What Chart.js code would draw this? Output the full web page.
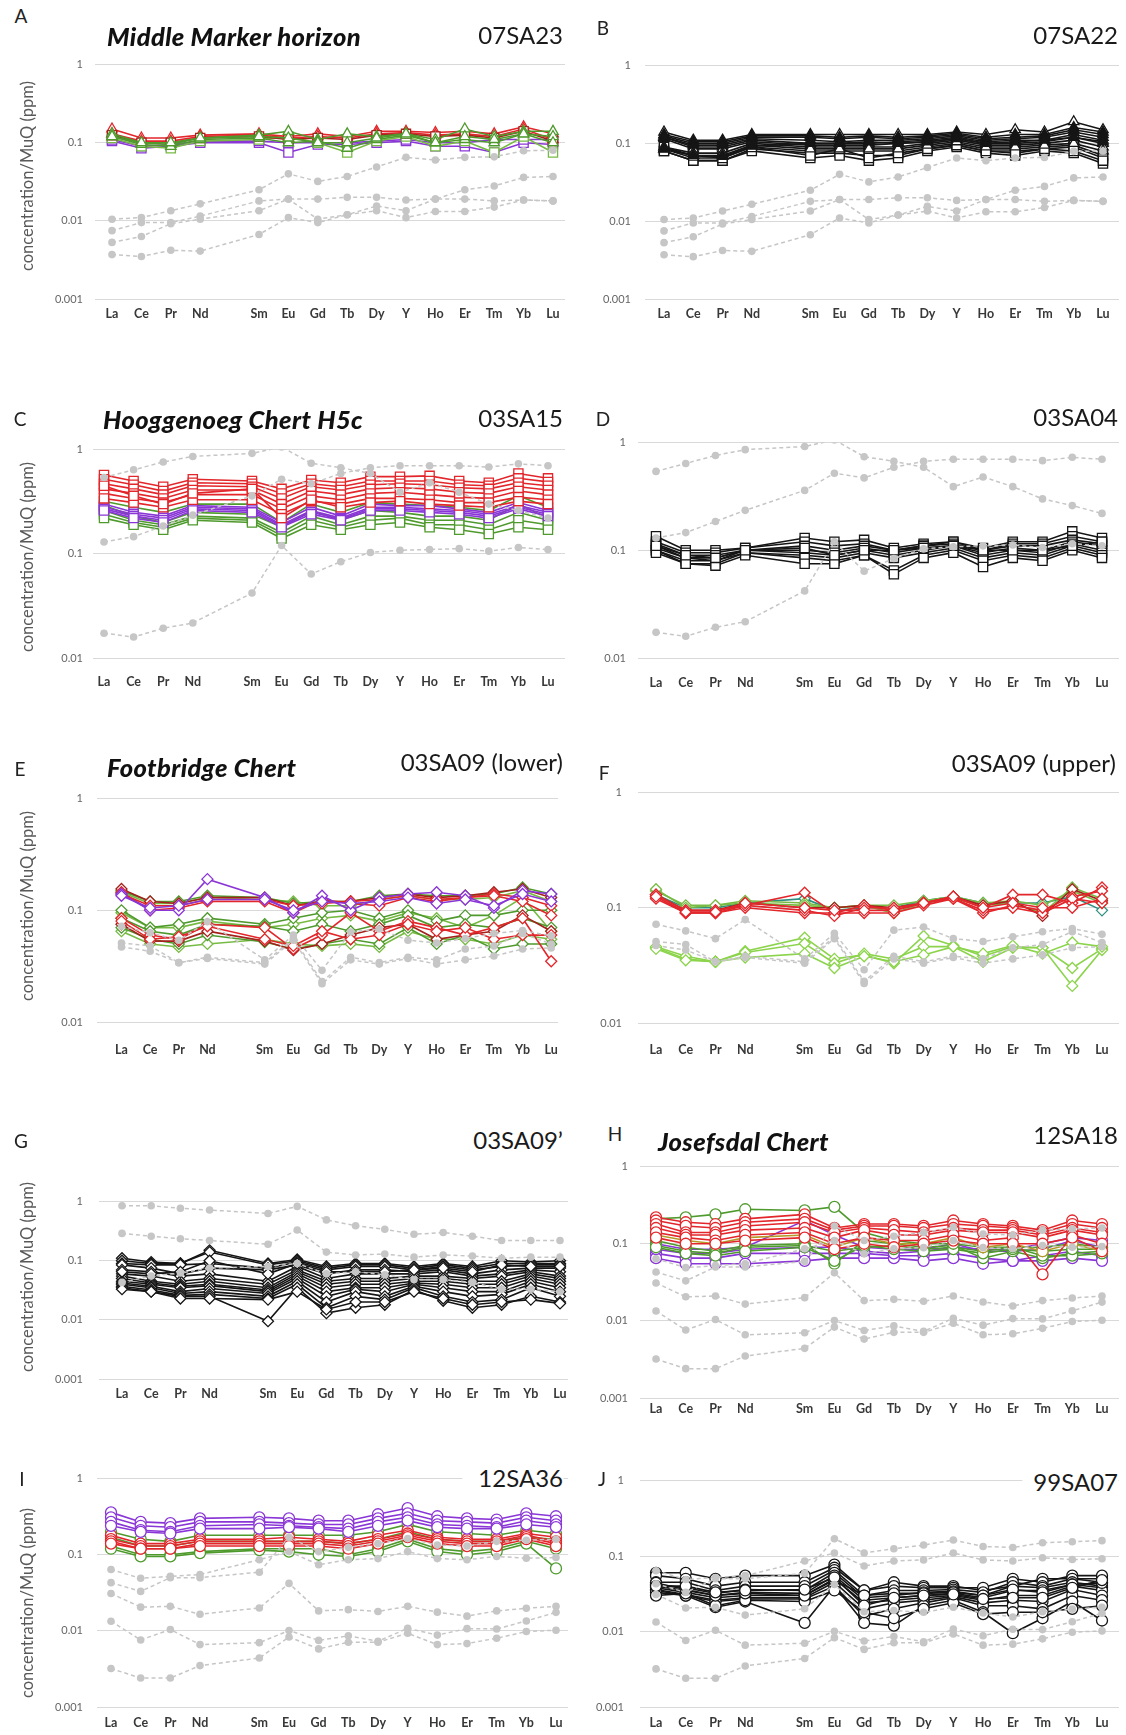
<!DOCTYPE html>
<html>
<head>
<meta charset="utf-8">
<script src="https://cdn.jsdelivr.net/npm/chart.js"></script>
<style>
  body { margin: 0; background: #fff; width: 1126px; height: 1735px; position: relative; overflow: hidden; font-family: Lato, "Open Sans", sans-serif; }
  canvas { position: absolute; }
  .txt { position: absolute; white-space: nowrap; line-height: 1; z-index: 2; }
  .letter { font-size: 19px; color: #222; transform: translate(-50%, -50%); }
  .unit { font-size: 25.5px; letter-spacing: 0.4px; font-weight: 900; font-style: italic; color: #111; transform: translateY(-50%); }
  .sid { font-size: 24px; color: #1a1a1a; background: #fff; transform: translate(-100%, -50%); }
  .ytitle { font-size: 16.5px; color: #595959; transform: translate(-50%, -50%) rotate(-90deg); }
</style>
</head>
<body>
<script>
// REE order, blank slot is Pm (no data)
const LABELS = ['La','Ce','Pr','Nd','','Sm','Eu','Gd','Tb','Dy','Y','Ho','Er','Tm','Yb','Lu']

const LETTERS = ['A','B','C','D','E','F','G','H','I','J']
const SAMPLE_IDS = ['07SA23','07SA22','03SA15','03SA04','03SA09 (lower)','03SA09 (upper)','03SA09\u2019','12SA18','12SA36','99SA07']
const UNIT_TITLES = ['Middle Marker horizon', '', 'Hooggenoeg Chert H5c', '', 'Footbridge Chert', '', '', 'Josefsdal Chert', '', '']
const Y_TITLE = 'concentration/MuQ (ppm)'

// ---- reference patterns (grey dashed), values La..Lu without Pm
const REF_AB = [
  [0.0105,0.011,0.0135,0.0165,0.025,0.040,0.032,0.037,0.049,0.065,0.060,0.065,0.066,0.079,0.080],
  [0.0075,0.0095,0.0095,0.0115,0.018,0.019,0.019,0.020,0.020,0.0185,0.019,0.025,0.028,0.036,0.037],
  [0.0053,0.0063,0.0092,0.0105,0.0135,0.019,0.0105,0.012,0.0155,0.0135,0.019,0.019,0.018,0.0185,0.018],
  [0.0037,0.0035,0.0042,0.0041,0.0067,0.011,0.0095,0.012,0.0135,0.011,0.0132,0.0132,0.015,0.0185,0.018]
]
const REF_CD = [
  [0.54,0.64,0.76,0.86,0.92,1.06,0.74,0.67,0.59,0.39,0.48,0.39,0.30,0.26,0.22],
  [0.13,0.146,0.185,0.235,0.36,0.52,0.47,0.59,0.67,0.70,0.70,0.70,0.68,0.73,0.70],
  [0.0173,0.0159,0.0193,0.0217,0.042,0.12,0.064,0.084,0.103,0.108,0.11,0.112,0.106,0.115,0.11]
]
const REF_EF = [
  [0.072,0.063,0.054,0.079,0.036,0.060,0.029,0.064,0.068,0.054,0.051,0.056,0.062,0.066,0.059],
  [0.051,0.048,0.034,0.038,0.034,0.056,0.023,0.038,0.034,0.038,0.036,0.045,0.048,0.062,0.050],
  [0.047,0.043,0.034,0.037,0.033,0.054,0.022,0.036,0.033,0.037,0.033,0.036,0.039,0.045,0.046]
]
const REF_G = [
  [0.85,0.85,0.77,0.72,0.63,0.83,0.49,0.39,0.34,0.28,0.30,0.26,0.22,0.22,0.22],
  [0.29,0.26,0.235,0.22,0.19,0.33,0.14,0.125,0.13,0.115,0.125,0.12,0.11,0.115,0.115],
  [0.043,0.055,0.062,0.075,0.08,0.09,0.06,0.065,0.058,0.048,0.048,0.043,0.033,0.033,0.03]
]
const REF_HIJ = [
  [0.064,0.049,0.052,0.055,0.086,0.11,0.074,0.086,0.089,0.11,0.089,0.086,0.095,0.09,0.092],
  [0.043,0.033,0.05,0.05,0.059,0.17,0.11,0.125,0.14,0.163,0.134,0.13,0.15,0.155,0.16],
  [0.031,0.0205,0.021,0.0165,0.020,0.042,0.0183,0.019,0.018,0.021,0.0176,0.0156,0.0183,0.0198,0.021],
  [0.0134,0.0076,0.0104,0.0066,0.0070,0.0101,0.0075,0.0086,0.0073,0.0108,0.0088,0.0107,0.0106,0.0135,0.0175],
  [0.0032,0.0024,0.0024,0.0035,0.0044,0.0083,0.0058,0.0071,0.0071,0.0093,0.0066,0.0068,0.0080,0.0098,0.0102]
]

// ---- A  07SA23
const A_PURPLE = [
  [0.105,0.085,0.09,0.1,0.1,0.075,0.095,0.095,0.1,0.105,0.09,0.09,0.075,0.1,0.095],
  [0.11,0.09,0.095,0.105,0.105,0.1,0.1,0.1,0.105,0.11,0.1,0.1,0.11,0.11,0.11]
]
const A_LTGREEN = [
  [0.115,0.09,0.085,0.105,0.11,0.12,0.1,0.075,0.105,0.12,0.09,0.105,0.075,0.12,0.075]
]
const A_GREEN = [
  [0.13,0.1,0.095,0.115,0.125,0.14,0.11,0.13,0.12,0.13,0.11,0.15,0.12,0.14,0.14],
  [0.12,0.095,0.09,0.11,0.115,0.1,0.105,0.085,0.11,0.125,0.1,0.11,0.1,0.13,0.12],
  [0.12,0.1,0.1,0.115,0.12,0.115,0.1,0.1,0.115,0.13,0.1,0.12,0.11,0.13,0.1]
]
const A_RED = [
  [0.15,0.115,0.115,0.125,0.13,0.12,0.13,0.12,0.14,0.14,0.135,0.14,0.13,0.16,0.13],
  [0.13,0.105,0.105,0.12,0.125,0.115,0.12,0.115,0.13,0.135,0.125,0.13,0.12,0.15,0.11]
]
const A_DKRED = [
  [0.125,0.1,0.1,0.115,0.12,0.11,0.115,0.11,0.125,0.13,0.12,0.125,0.115,0.14,0.105]
]

// ---- B  07SA22
const B_SQ = [
  [0.085,0.065,0.065,0.09,0.08,0.08,0.08,0.08,0.09,0.1,0.085,0.085,0.09,0.095,0.07],
  [0.08,0.06,0.06,0.085,0.075,0.075,0.07,0.07,0.085,0.095,0.08,0.08,0.085,0.09,0.065],
  [0.08,0.06,0.06,0.08,0.065,0.07,0.06,0.065,0.08,0.09,0.075,0.07,0.08,0.075,0.055],
  [0.09,0.07,0.065,0.09,0.07,0.085,0.065,0.075,0.085,0.095,0.08,0.075,0.085,0.08,0.06]
]
const B_TRI_OPEN = [
  [0.12,0.09,0.09,0.11,0.1,0.1,0.1,0.105,0.11,0.12,0.105,0.11,0.11,0.13,0.11],
  [0.115,0.085,0.085,0.105,0.095,0.095,0.095,0.1,0.105,0.115,0.1,0.1,0.105,0.12,0.1],
  [0.09,0.075,0.075,0.1,0.09,0.09,0.09,0.09,0.1,0.11,0.095,0.095,0.1,0.11,0.09],
  [0.085,0.07,0.07,0.095,0.085,0.085,0.085,0.085,0.095,0.105,0.09,0.09,0.095,0.1,0.08],
  [0.14,0.11,0.11,0.13,0.13,0.13,0.13,0.13,0.13,0.14,0.13,0.15,0.14,0.19,0.15]
]
const B_TRI_FILL = [
  [0.13,0.105,0.105,0.125,0.125,0.12,0.125,0.12,0.125,0.135,0.12,0.13,0.13,0.16,0.14],
  [0.125,0.1,0.1,0.12,0.12,0.115,0.12,0.115,0.12,0.13,0.115,0.12,0.125,0.15,0.13],
  [0.12,0.095,0.095,0.115,0.11,0.105,0.11,0.11,0.115,0.125,0.11,0.115,0.12,0.14,0.12],
  [0.085,0.07,0.068,0.092,0.1,0.1,0.105,0.1,0.105,0.115,0.1,0.105,0.11,0.12,0.105]
]

// ---- C  03SA15
const C_GREEN = [
  [0.32,0.28,0.25,0.30,0.30,0.20,0.30,0.25,0.31,0.30,0.29,0.28,0.26,0.36,0.28],
  [0.29,0.23,0.20,0.25,0.24,0.18,0.26,0.21,0.26,0.25,0.23,0.23,0.21,0.30,0.22],
  [0.26,0.21,0.19,0.23,0.22,0.16,0.23,0.19,0.23,0.23,0.21,0.21,0.19,0.25,0.21],
  [0.24,0.20,0.18,0.22,0.21,0.15,0.21,0.18,0.21,0.22,0.19,0.19,0.17,0.21,0.19],
  [0.22,0.19,0.17,0.21,0.20,0.14,0.19,0.17,0.19,0.20,0.18,0.17,0.155,0.18,0.17]
]
const C_PURPLE = [
  [0.30,0.25,0.23,0.29,0.28,0.20,0.28,0.23,0.30,0.29,0.29,0.27,0.25,0.31,0.26],
  [0.28,0.24,0.22,0.28,0.27,0.19,0.26,0.22,0.28,0.28,0.27,0.26,0.24,0.29,0.25],
  [0.27,0.23,0.21,0.27,0.26,0.185,0.25,0.215,0.27,0.27,0.26,0.25,0.23,0.28,0.24],
  [0.26,0.22,0.20,0.26,0.25,0.18,0.24,0.21,0.26,0.26,0.25,0.24,0.22,0.27,0.23]
]
const C_RED = [
  [0.57,0.50,0.44,0.52,0.50,0.42,0.51,0.48,0.55,0.55,0.56,0.50,0.48,0.59,0.53],
  [0.52,0.46,0.40,0.48,0.47,0.38,0.47,0.44,0.50,0.50,0.50,0.46,0.45,0.53,0.49],
  [0.47,0.42,0.37,0.45,0.44,0.34,0.44,0.41,0.46,0.47,0.46,0.43,0.42,0.48,0.45],
  [0.42,0.38,0.34,0.41,0.41,0.30,0.40,0.37,0.42,0.43,0.42,0.39,0.38,0.44,0.41],
  [0.38,0.34,0.31,0.37,0.37,0.27,0.36,0.33,0.38,0.39,0.37,0.35,0.34,0.40,0.37],
  [0.34,0.31,0.28,0.33,0.33,0.24,0.32,0.30,0.34,0.34,0.33,0.31,0.31,0.35,0.33],
  [0.45,0.36,0.30,0.38,0.42,0.22,0.33,0.28,0.31,0.32,0.30,0.29,0.28,0.32,0.30]
]

// ---- D  03SA04
const D_BLACK = [
  [0.135,0.10,0.10,0.105,0.13,0.12,0.125,0.105,0.115,0.12,0.105,0.12,0.12,0.15,0.13],
  [0.12,0.095,0.095,0.105,0.12,0.11,0.115,0.1,0.11,0.12,0.1,0.115,0.115,0.135,0.12],
  [0.115,0.09,0.09,0.1,0.11,0.1,0.11,0.1,0.11,0.115,0.1,0.11,0.11,0.125,0.115],
  [0.11,0.085,0.085,0.1,0.1,0.095,0.105,0.095,0.105,0.11,0.095,0.105,0.1,0.12,0.11],
  [0.105,0.085,0.08,0.1,0.095,0.09,0.1,0.09,0.1,0.11,0.09,0.1,0.095,0.115,0.1],
  [0.1,0.08,0.08,0.095,0.09,0.085,0.095,0.085,0.095,0.105,0.085,0.095,0.09,0.11,0.095],
  [0.1,0.075,0.075,0.095,0.085,0.08,0.09,0.065,0.09,0.1,0.08,0.09,0.085,0.105,0.09],
  [0.095,0.075,0.072,0.09,0.075,0.075,0.09,0.06,0.085,0.095,0.07,0.085,0.08,0.1,0.085],
  [0.11,0.09,0.085,0.1,0.105,0.09,0.1,0.1,0.105,0.11,0.1,0.1,0.1,0.11,0.12]
]

// ---- E  03SA09 (lower)
const E_GREEN = [
  [0.10,0.07,0.075,0.085,0.075,0.085,0.095,0.10,0.085,0.10,0.08,0.09,0.09,0.10,0.10],
  [0.085,0.065,0.06,0.075,0.072,0.065,0.075,0.065,0.075,0.09,0.07,0.075,0.07,0.085,0.07],
  [0.07,0.055,0.05,0.06,0.052,0.045,0.05,0.055,0.05,0.07,0.05,0.06,0.045,0.05,0.05],
  [0.15,0.12,0.12,0.135,0.13,0.115,0.12,0.12,0.135,0.14,0.135,0.135,0.14,0.16,0.14]
]
const E_LTGREEN = [
  [0.095,0.07,0.07,0.08,0.07,0.075,0.085,0.09,0.08,0.095,0.085,0.07,0.09,0.13,0.065],
  [0.065,0.05,0.047,0.05,0.055,0.05,0.048,0.05,0.047,0.065,0.055,0.055,0.05,0.06,0.055],
  [0.145,0.115,0.115,0.13,0.125,0.12,0.11,0.11,0.125,0.135,0.125,0.125,0.13,0.15,0.12]
]
const E_RED = [
  [0.085,0.06,0.055,0.075,0.07,0.045,0.06,0.095,0.065,0.08,0.07,0.06,0.07,0.085,0.035],
  [0.08,0.055,0.058,0.072,0.055,0.048,0.065,0.055,0.06,0.075,0.065,0.07,0.055,0.06,0.06],
  [0.145,0.10,0.105,0.12,0.12,0.095,0.125,0.115,0.11,0.13,0.12,0.13,0.14,0.13,0.11],
  [0.14,0.11,0.11,0.125,0.125,0.11,0.115,0.12,0.125,0.135,0.125,0.13,0.135,0.12,0.09]
]
const E_DKRED = [
  [0.075,0.053,0.053,0.065,0.053,0.044,0.05,0.06,0.07,0.075,0.055,0.06,0.065,0.09,0.065],
  [0.155,0.12,0.115,0.13,0.13,0.11,0.12,0.12,0.13,0.14,0.13,0.135,0.145,0.155,0.13]
]
const E_PURPLE = [
  [0.14,0.10,0.10,0.19,0.13,0.095,0.135,0.10,0.13,0.14,0.145,0.135,0.105,0.15,0.14],
  [0.135,0.105,0.11,0.125,0.125,0.10,0.12,0.115,0.12,0.13,0.115,0.125,0.11,0.14,0.12]
]

// ---- F  03SA09 (upper)
const F_LIME = [
  [0.045,0.036,0.034,0.042,0.055,0.036,0.039,0.033,0.057,0.047,0.038,0.046,0.045,0.030,0.044],
  [0.046,0.038,0.034,0.041,0.049,0.033,0.040,0.036,0.046,0.046,0.034,0.045,0.045,0.021,0.043],
  [0.044,0.035,0.034,0.037,0.040,0.030,0.038,0.034,0.039,0.046,0.040,0.047,0.040,0.050,0.046]
]
const F_GREEN = [
  [0.14,0.105,0.105,0.115,0.11,0.1,0.105,0.105,0.115,0.125,0.11,0.115,0.105,0.14,0.11],
  [0.145,0.1,0.105,0.11,0.105,0.1,0.105,0.09,0.11,0.12,0.105,0.11,0.09,0.15,0.12]
]
const F_TEAL = [
  [0.13,0.1,0.1,0.11,0.12,0.095,0.1,0.1,0.115,0.125,0.11,0.11,0.11,0.125,0.095]
]
const F_DKRED = [
  [0.13,0.095,0.095,0.11,0.1,0.1,0.105,0.1,0.11,0.125,0.105,0.115,0.085,0.145,0.115]
]
const F_RED = [
  [0.125,0.09,0.09,0.105,0.135,0.09,0.105,0.095,0.11,0.125,0.1,0.13,0.13,0.11,0.15],
  [0.12,0.09,0.09,0.1,0.09,0.09,0.09,0.09,0.105,0.12,0.09,0.105,0.095,0.125,0.14],
  [0.13,0.095,0.095,0.105,0.095,0.085,0.1,0.1,0.11,0.12,0.095,0.1,0.09,0.12,0.11],
  [0.125,0.092,0.092,0.11,0.1,0.095,0.095,0.095,0.11,0.125,0.1,0.11,0.1,0.1,0.12]
]

// ---- G  03SA09'
const G_BLACK = [
  [0.11,0.095,0.09,0.15,0.09,0.105,0.08,0.09,0.09,0.08,0.09,0.08,0.1,0.095,0.1],
  [0.1,0.09,0.09,0.14,0.085,0.1,0.075,0.085,0.085,0.075,0.085,0.075,0.09,0.09,0.09],
  [0.09,0.085,0.085,0.09,0.075,0.095,0.07,0.08,0.08,0.07,0.08,0.07,0.08,0.085,0.085],
  [0.085,0.075,0.06,0.075,0.07,0.085,0.06,0.07,0.07,0.065,0.07,0.06,0.07,0.075,0.075],
  [0.07,0.065,0.055,0.06,0.045,0.08,0.05,0.06,0.06,0.06,0.065,0.055,0.06,0.07,0.065],
  [0.06,0.055,0.045,0.05,0.04,0.07,0.045,0.05,0.05,0.055,0.055,0.05,0.055,0.065,0.055],
  [0.055,0.045,0.04,0.045,0.035,0.065,0.04,0.045,0.045,0.05,0.05,0.045,0.045,0.06,0.05],
  [0.05,0.042,0.037,0.04,0.032,0.06,0.035,0.04,0.04,0.045,0.045,0.04,0.04,0.055,0.045],
  [0.045,0.04,0.035,0.038,0.03,0.055,0.03,0.035,0.035,0.042,0.04,0.035,0.035,0.05,0.04],
  [0.042,0.037,0.03,0.034,0.028,0.05,0.025,0.033,0.03,0.04,0.035,0.03,0.03,0.045,0.035],
  [0.04,0.035,0.028,0.03,0.025,0.045,0.02,0.03,0.025,0.037,0.03,0.025,0.027,0.04,0.03],
  [0.037,0.032,0.026,0.027,0.023,0.04,0.016,0.025,0.022,0.035,0.025,0.02,0.022,0.035,0.025],
  [0.035,0.03,0.025,0.025,0.0095,0.035,0.013,0.016,0.018,0.032,0.021,0.016,0.018,0.025,0.02],
  [0.033,0.03,0.023,0.023,0.022,0.03,0.015,0.02,0.02,0.03,0.023,0.018,0.02,0.022,0.019],
  [0.065,0.06,0.065,0.1,0.06,0.09,0.065,0.065,0.065,0.07,0.075,0.065,0.085,0.08,0.08]
]

// ---- H  12SA18
const H_PURPLE = [
  [0.1,0.085,0.085,0.09,0.2,0.13,0.09,0.085,0.085,0.1,0.08,0.08,0.085,0.11,0.09],
  [0.075,0.065,0.065,0.075,0.075,0.075,0.075,0.07,0.07,0.075,0.065,0.06,0.07,0.08,0.07],
  [0.065,0.055,0.055,0.055,0.06,0.065,0.065,0.065,0.06,0.065,0.055,0.06,0.06,0.065,0.06],
  [0.085,0.075,0.075,0.085,0.09,0.09,0.08,0.075,0.08,0.09,0.085,0.085,0.1,0.12,0.11]
]
const H_GREEN = [
  [0.11,0.09,0.08,0.095,0.1,0.055,0.11,0.1,0.09,0.095,0.065,0.08,0.065,0.075,0.08],
  [0.095,0.08,0.075,0.09,0.095,0.08,0.09,0.095,0.085,0.09,0.08,0.09,0.07,0.07,0.075],
  [0.09,0.075,0.07,0.08,0.09,0.06,0.095,0.085,0.08,0.085,0.075,0.085,0.08,0.085,0.085],
  [0.21,0.22,0.24,0.28,0.27,0.30,0.14,0.11,0.1,0.1,0.09,0.09,0.09,0.1,0.09]
]
const H_OLIVE = [
  [0.13,0.11,0.1,0.12,0.13,0.09,0.12,0.1,0.1,0.12,0.09,0.1,0.08,0.1,0.08]
]
const H_RED = [
  [0.22,0.19,0.18,0.21,0.24,0.16,0.18,0.18,0.17,0.2,0.18,0.17,0.15,0.2,0.18],
  [0.2,0.17,0.16,0.19,0.21,0.15,0.17,0.17,0.16,0.18,0.17,0.16,0.14,0.18,0.16],
  [0.18,0.14,0.14,0.17,0.19,0.14,0.16,0.15,0.14,0.16,0.15,0.15,0.13,0.16,0.14],
  [0.16,0.13,0.13,0.15,0.16,0.12,0.15,0.13,0.13,0.15,0.14,0.14,0.12,0.15,0.13],
  [0.14,0.12,0.11,0.13,0.14,0.1,0.12,0.11,0.11,0.13,0.11,0.12,0.04,0.13,0.1],
  [0.12,0.1,0.1,0.11,0.12,0.085,0.1,0.09,0.1,0.11,0.1,0.1,0.1,0.12,0.08]
]

// ---- I  12SA36
const I_GREEN = [
  [0.2,0.16,0.15,0.18,0.18,0.18,0.18,0.18,0.2,0.25,0.2,0.19,0.18,0.21,0.19],
  [0.17,0.13,0.13,0.15,0.15,0.15,0.15,0.14,0.16,0.2,0.16,0.15,0.15,0.17,0.16],
  [0.13,0.1,0.1,0.11,0.12,0.12,0.12,0.1,0.12,0.16,0.12,0.11,0.12,0.15,0.12],
  [0.12,0.095,0.095,0.105,0.115,0.11,0.1,0.095,0.11,0.15,0.11,0.1,0.11,0.14,0.066]
]
const I_RED = [
  [0.18,0.14,0.14,0.16,0.16,0.17,0.16,0.15,0.18,0.21,0.17,0.16,0.16,0.19,0.17],
  [0.16,0.13,0.13,0.15,0.15,0.15,0.15,0.14,0.16,0.19,0.16,0.15,0.15,0.18,0.15],
  [0.15,0.12,0.12,0.14,0.14,0.14,0.14,0.13,0.15,0.18,0.15,0.14,0.14,0.17,0.14],
  [0.14,0.12,0.12,0.13,0.13,0.13,0.13,0.12,0.14,0.17,0.14,0.13,0.13,0.16,0.13]
]
const I_PURPLE = [
  [0.36,0.27,0.26,0.3,0.31,0.3,0.28,0.28,0.34,0.41,0.32,0.3,0.29,0.35,0.32],
  [0.31,0.24,0.23,0.27,0.27,0.26,0.25,0.25,0.3,0.35,0.28,0.27,0.26,0.31,0.28],
  [0.27,0.21,0.2,0.24,0.25,0.24,0.23,0.22,0.27,0.31,0.25,0.24,0.23,0.28,0.25],
  [0.24,0.2,0.19,0.22,0.22,0.23,0.22,0.2,0.24,0.28,0.23,0.22,0.22,0.25,0.23]
]

// ---- J  99SA07
const J_BLACK = [
  [0.06,0.06,0.05,0.055,0.055,0.077,0.035,0.045,0.04,0.04,0.035,0.04,0.05,0.05,0.05],
  [0.055,0.05,0.04,0.045,0.045,0.07,0.035,0.04,0.038,0.038,0.038,0.05,0.045,0.055,0.055],
  [0.045,0.045,0.035,0.04,0.04,0.065,0.03,0.035,0.035,0.036,0.033,0.045,0.04,0.05,0.045],
  [0.042,0.038,0.032,0.036,0.035,0.06,0.028,0.03,0.033,0.034,0.03,0.04,0.038,0.045,0.04],
  [0.04,0.035,0.03,0.033,0.032,0.055,0.026,0.028,0.03,0.032,0.028,0.035,0.035,0.042,0.038],
  [0.038,0.033,0.028,0.03,0.03,0.05,0.024,0.026,0.028,0.03,0.026,0.03,0.03,0.04,0.035],
  [0.036,0.031,0.026,0.028,0.028,0.045,0.02,0.024,0.026,0.029,0.024,0.026,0.025,0.036,0.03],
  [0.035,0.03,0.025,0.027,0.027,0.04,0.016,0.02,0.024,0.028,0.022,0.022,0.02,0.03,0.026],
  [0.033,0.03,0.021,0.025,0.013,0.04,0.013,0.012,0.022,0.026,0.018,0.0095,0.015,0.025,0.014],
  [0.03,0.032,0.022,0.026,0.025,0.035,0.018,0.015,0.02,0.024,0.017,0.018,0.018,0.02,0.022],
  [0.044,0.036,0.03,0.032,0.03,0.048,0.03,0.032,0.032,0.033,0.03,0.036,0.033,0.042,0.044],
  [0.04,0.04,0.033,0.035,0.036,0.052,0.022,0.028,0.03,0.031,0.027,0.028,0.028,0.038,0.048]
]

// colours
const RED = '#e2262b', DKRED = '#a3221c', GREEN = '#4f9a2d', LTGREEN = '#78bb44', LIME = '#8cd44c'
const PURPLE = '#8a36d6', BLACK = '#151515', TEAL = '#2e8f80', OLIVE = '#b59a2a', GREY = '#c6c6c6'

const MARKER_R = { triangle: 6, rect: 6.5, rectRot: 5.5, circle: 5.5 }
const AXIS_W = 62, PAD_T = 14, PAD_R = 10, XAXIS_H = 40

// panel frames in page pixels: plot left/right, y of 1 and of the lowest gridline, x of La and Lu
const PANELS = [
  { PL: 95,  PR: 565,  T: 60,   B: 299,  ymin: 0.001, pLa: 112, pLu: 553,  pad: 12, xd: 14 },
  { PL: 645, PR: 1119, T: 59,   B: 299,  ymin: 0.001, pLa: 664, pLu: 1103, pad: 14, xd: 14 },
  { PL: 93,  PR: 565,  T: 447,  B: 658,  ymin: 0.01,  pLa: 104, pLu: 548,  pad: 10, xd: 23 },
  { PL: 638, PR: 1119, T: 438,  B: 658,  ymin: 0.01,  pLa: 656, pLu: 1102, pad: 12, xd: 24 },
  { PL: 97,  PR: 568,  T: 792,  B: 1022, ymin: 0.01,  pLa: 122, pLu: 561,  pad: 14, xd: 27 },
  { PL: 638, PR: 1119, T: 784,  B: 1023, ymin: 0.01,  pLa: 656, pLu: 1102, pad: 16, xd: 26 },
  { PL: 99,  PR: 568,  T: 1193, B: 1379, ymin: 0.001, pLa: 122, pLu: 560,  pad: 16, xd: 14 },
  { PL: 640, PR: 1119, T: 1162, B: 1398, ymin: 0.001, pLa: 656, pLu: 1102, pad: 12, xd: 10 },
  { PL: 97,  PR: 568,  T: 1472, B: 1707, ymin: 0.001, pLa: 111, pLu: 556,  pad: 14, xd: 15 },
  { PL: 640, PR: 1119, T: 1472, B: 1707, ymin: 0.001, pLa: 656, pLu: 1102, pad: 16, xd: 15 }
]

// which series go in which panel (painted bottom to top), and the grey references
const SERIES = [
  [[A_PURPLE, PURPLE, 'rect'], [A_LTGREEN, LTGREEN, 'rect'], [A_RED, RED, 'triangle'], [A_DKRED, DKRED, 'rect'], [A_GREEN, GREEN, 'triangle']],
  [[B_SQ, BLACK, 'rect'], [B_TRI_OPEN, BLACK, 'triangle'], [B_TRI_FILL, BLACK, 'triangle', true]],
  [[C_GREEN, GREEN, 'rect'], [C_PURPLE, PURPLE, 'rect'], [C_RED, RED, 'rect']],
  [[D_BLACK, BLACK, 'rect']],
  [[E_LTGREEN, LTGREEN, 'rectRot'], [E_GREEN, GREEN, 'rectRot'], [E_DKRED, DKRED, 'rectRot'], [E_RED, RED, 'rectRot'], [E_PURPLE, PURPLE, 'rectRot']],
  [[F_LIME, LIME, 'rectRot'], [F_TEAL, TEAL, 'rectRot'], [F_GREEN, LTGREEN, 'rectRot'], [F_DKRED, DKRED, 'rectRot'], [F_RED, RED, 'rectRot']],
  [[G_BLACK, BLACK, 'rectRot']],
  [[H_PURPLE, PURPLE, 'circle'], [H_GREEN, GREEN, 'circle'], [H_OLIVE, OLIVE, 'circle'], [H_RED, RED, 'circle']],
  [[I_GREEN, GREEN, 'circle'], [I_RED, RED, 'circle'], [I_PURPLE, PURPLE, 'circle']],
  [[J_BLACK, BLACK, 'circle']]
]
const REFS = [REF_AB, REF_AB, REF_CD, REF_CD, REF_EF, REF_EF, REF_G, REF_HIJ, REF_HIJ, REF_HIJ]

// text placement
const LETTER_POS = [[21,15],[603,27],[20,418],[603,418],[20,768],[604,772],[21,1140],[615,1133],[22,1478],[602,1478]]
const TITLE_POS = [[107,37],null,[103,420],null,[107,768],null,null,[658,1142],null,null]
const ID_POS = [[563,35],[1118,35],[563,418],[1118,417],[563,768],[1116,763],[563,1140],[1118,1135],[563,1478],[1118,1482]]
const ID_BOX = [null,null,null,null,'4px 0 16px 11px',null,null,null,'4px 0 4px 16px','4px 0 4px 11px']
const YTITLE_Y = [176, null, 557, null, 906, null, 1277, null, 1603, null]

Chart.defaults.font.family = 'Lato, "Open Sans", sans-serif'
Chart.defaults.animation = false

function expand(vals) {
  var pts = [], k = 0
  LABELS.forEach(function (lab, i) { if (lab !== '') pts.push({ x: i, y: vals[k++] }) })
  return pts
}

function sampleSet(vals, color, marker, filled) {
  return {
    data: expand(vals), borderColor: color, borderWidth: 1.6, tension: 0,
    pointStyle: marker, pointRadius: MARKER_R[marker], pointBorderWidth: 1.3,
    pointBorderColor: color, pointBackgroundColor: filled ? color : '#ffffff'
  }
}

function refSet(vals) {
  return {
    data: expand(vals), borderColor: GREY, borderWidth: 1.5, borderDash: [4, 3], tension: 0,
    pointStyle: 'circle', pointRadius: 3.8, pointBorderWidth: 0,
    pointBackgroundColor: GREY, pointBorderColor: GREY
  }
}

function addText(txt, cls, x, y, extra) {
  var d = document.createElement('div')
  d.className = 'txt ' + cls
  d.textContent = txt
  d.style.left = x + 'px'
  d.style.top = y + 'px'
  if (extra) Object.assign(d.style, extra)
  document.body.appendChild(d)
}

function drawPanel(n) {
  var p = PANELS[n]
  var cv = document.createElement('canvas')
  cv.width = p.PR - p.PL + AXIS_W + PAD_R
  cv.height = p.B - p.T + PAD_T + XAXIS_H
  cv.style.left = (p.PL - AXIS_W) + 'px'
  cv.style.top = (p.T - PAD_T) + 'px'
  document.body.appendChild(cv)

  var u = (p.pLu - p.pLa) / 15
  var datasets = []
  SERIES[n].forEach(function (g) {
    g[0].forEach(function (row) { datasets.push(sampleSet(row, g[1], g[2], g[3])) })
  })
  REFS[n].forEach(function (row) { datasets.push(refSet(row)) })
  datasets.forEach(function (d, i) { d.order = datasets.length - i })

  var decades = [1, 0.1, 0.01, 0.001].filter(function (v) { return v >= p.ymin })

  new Chart(cv, {
    type: 'line',
    data: { datasets: datasets },
    options: {
      responsive: false,
      animation: false,
      layout: { padding: { top: PAD_T, right: PAD_R, left: 0, bottom: 0 } },
      plugins: { legend: { display: false }, tooltip: { enabled: false } },
      scales: {
        x: {
          type: 'linear',
          min: -(p.pLa - p.PL) / u,
          max: 15 + (p.PR - p.pLu) / u,
          grid: { display: false, drawTicks: false },
          border: { display: false },
          afterBuildTicks: function (s) { s.ticks = LABELS.map(function (l, i) { return { value: i } }) },
          afterFit: function (s) { s.height = XAXIS_H },
          ticks: {
            autoSkip: false, maxRotation: 0, padding: p.xd - 7,
            color: '#383838', font: { size: 12.5, weight: 'bold' },
            callback: function (v) { return LABELS[v] || '' }
          }
        },
        y: {
          type: 'logarithmic',
          min: p.ymin, max: 1,
          grid: { color: '#d9d9d9', lineWidth: 1, drawTicks: false },
          border: { display: false },
          afterBuildTicks: function (s) { s.ticks = decades.map(function (v) { return { value: v } }) },
          afterFit: function (s) { s.width = AXIS_W },
          ticks: {
            padding: p.pad, color: '#666666', font: { size: 11 },
            callback: function (v) { return String(v) }
          }
        }
      }
    }
  })
}

for (var i = 0; i < PANELS.length; i++) {
  drawPanel(i)
  addText(LETTERS[i], 'letter', LETTER_POS[i][0], LETTER_POS[i][1])
  if (TITLE_POS[i]) addText(UNIT_TITLES[i], 'unit', TITLE_POS[i][0], TITLE_POS[i][1])
  var box = ID_BOX[i] ? { padding: ID_BOX[i] } : null
  addText(SAMPLE_IDS[i], 'sid', ID_POS[i][0], ID_POS[i][1], box)
  if (YTITLE_Y[i]) addText(Y_TITLE, 'ytitle', 27, YTITLE_Y[i])
}
</script>
</body>
</html>
